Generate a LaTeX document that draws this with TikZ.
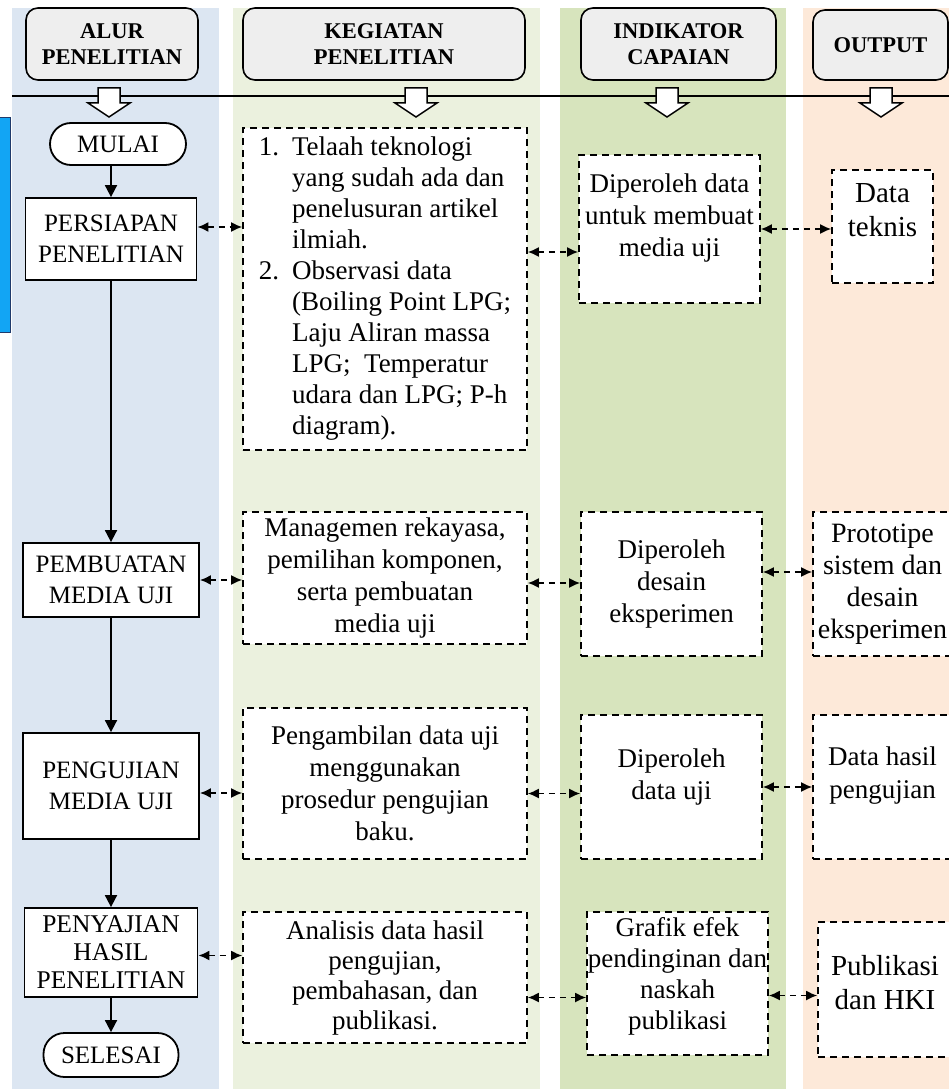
\documentclass[tikz,border=0pt]{standalone}
\usepackage{fontspec}
\setmainfont{Liberation Serif}
\usepackage{xcolor}
\usepackage{tikz}
\usetikzlibrary{arrows.meta,shapes,positioning}

\definecolor{laneblue}{HTML}{DCE6F2}
\definecolor{lanebeige}{HTML}{EBF1DE}
\definecolor{lanegreen}{HTML}{D7E4BD}
\definecolor{lanepeach}{HTML}{FDE9D9}
\definecolor{headgray}{HTML}{EEEEEE}
\definecolor{markcyan}{HTML}{12A5F4}
\definecolor{marknavy}{HTML}{1F3A6B}

\begin{document}
\begin{tikzpicture}[x=1pt, y=-1pt,
    head/.style={draw, line width=1.6pt, rounded corners=12pt, fill=headgray, align=center, inner sep=0pt, font=\fontsize{22.5}{26}\selectfont\bfseries},
    stepbox/.style={draw, line width=1.8pt, fill=white, align=center, inner sep=0pt, font=\fontsize{25}{31}\selectfont},
    endbox/.style={stepbox, rounded corners=21pt},
    dashbox/.style={draw, line width=1.6pt, dash pattern=on 7pt off 5pt, fill=white, align=center, inner sep=0pt, font=\fontsize{27}{32}\selectfont},
    outbox/.style={dashbox, font=\fontsize{29}{34}\selectfont},
    raised/.style={text depth=#1},
    blockarrow/.style={draw, line width=1.5pt, fill=white, line join=miter},
    flow/.style={-{Triangle[length=12pt,width=12pt]}, line width=1.8pt},
    link/.style={{Latex[length=11pt,width=10pt]}-{Latex[length=11pt,width=10pt]}, line width=1.7pt, dash pattern=on 6pt off 5pt}
]
\useasboundingbox (0,0) rectangle (949,1089);
\clip (0,0) rectangle (949,1089);

% lanes
\fill[laneblue] (12,8) rectangle (219,1089);
\fill[lanebeige] (233,8) rectangle (540,1089);
\fill[lanegreen] (560,8) rectangle (786,1089);
\fill[lanepeach] (803,8) rectangle (949,1089);
\filldraw[fill=markcyan, draw=marknavy, line width=1pt] (-2,118) rectangle (10,332);

% headers
\node[head, minimum width=172pt, minimum height=72pt] (hAlur) at (112,44) {ALUR\\PENELITIAN};
\node[head, minimum width=282pt, minimum height=72pt] (hKegiatan) at (384,44) {KEGIATAN\\PENELITIAN};
\node[head, minimum width=195pt, minimum height=72pt] (hIndikator) at (678.5,44) {INDIKATOR\\CAPAIAN};
\node[head, minimum width=135pt, minimum height=70pt] (hOutput) at (880.5,45) {OUTPUT};

\draw[line width=1.5pt] (12,96) -- (949,96);
\draw[blockarrow, shift={(109,0)}] (-11,88) -- (11,88) -- (11,103) -- (21,103) -- (0,117) -- (-21,103) -- (-11,103) -- cycle;
\draw[blockarrow, shift={(416,0)}] (-11,88) -- (11,88) -- (11,103) -- (21,103) -- (0,117) -- (-21,103) -- (-11,103) -- cycle;
\draw[blockarrow, shift={(667,0)}] (-11,88) -- (11,88) -- (11,103) -- (21,103) -- (0,117) -- (-21,103) -- (-11,103) -- cycle;
\draw[blockarrow, shift={(881,0)}] (-11,88) -- (11,88) -- (11,103) -- (21,103) -- (0,117) -- (-21,103) -- (-11,103) -- cycle;

% alur penelitian
\node[endbox, minimum width=136pt, minimum height=42pt] (mulai) at (118,144) {MULAI};
\node[stepbox, minimum width=171pt, minimum height=82pt] (persiapan) at (111,239) {PERSIAPAN\\PENELITIAN};
\node[stepbox, minimum width=176pt, minimum height=74pt] (pembuatan) at (111,580) {PEMBUATAN\\MEDIA UJI};
\node[stepbox, minimum width=176pt, minimum height=106pt] (pengujian) at (111,786) {PENGUJIAN\\MEDIA UJI};
\node[stepbox, minimum width=173pt, minimum height=89pt, font=\fontsize{25.5}{28}\selectfont] (penyajian) at (111,952.5) {PENYAJIAN\\HASIL\\PENELITIAN};
\node[endbox, minimum width=135pt, minimum height=44pt] (selesai) at (111,1055) {SELESAI};

\draw[flow] (mulai.south -| persiapan.north) -- (persiapan.north);
\draw[flow] (persiapan) -- (pembuatan);
\draw[flow] (pembuatan) -- (pengujian);
\draw[flow] (pengujian) -- (penyajian);
\draw[flow] (penyajian) -- (selesai);

% kegiatan penelitian
\node[dashbox, minimum width=284pt, minimum height=322pt, font=\fontsize{27}{31}\selectfont] (keg1) at (385,289) {%
  \begin{tabular}{@{}l@{\hspace{13pt}}l@{}}
  1. & Telaah teknologi\\
     & yang sudah ada dan\\
     & penelusuran artikel\\
     & ilmiah.\\
  2. & Observasi data\\
     & (Boiling Point LPG;\\
     & Laju Aliran massa\\
     & LPG;\ \ Temperatur\\
     & udara dan LPG; P-h\\
     & diagram).
  \end{tabular}};
\node[dashbox, minimum width=284pt, minimum height=132pt] (keg2) at (385,578) {Managemen rekayasa,\\pemilihan komponen,\\serta pembuatan\\media uji};
\node[dashbox, minimum width=284pt, minimum height=151pt] (keg3) at (385,783.5) {Pengambilan data uji\\menggunakan\\prosedur pengujian\\baku.};
\node[dashbox, minimum width=284pt, minimum height=131pt, font=\fontsize{27}{30}\selectfont] (keg4) at (385,977.5) {Analisis data hasil\\pengujian,\\pembahasan, dan\\publikasi.};

% indikator capaian
\node[dashbox, raised=28pt, minimum width=181pt, minimum height=148pt] (ind1) at (669.5,229) {Diperoleh data\\untuk membuat\\media uji};
\node[dashbox, minimum width=181pt, minimum height=144pt] (ind2) at (671.5,584) {Diperoleh\\desain\\eksperimen};
\node[dashbox, raised=26pt, minimum width=181pt, minimum height=144pt] (ind3) at (671.5,787) {Diperoleh\\data uji};
\node[dashbox, raised=20pt, minimum width=181pt, minimum height=143pt, font=\fontsize{27}{31}\selectfont] (ind4) at (677.5,983.5) {Grafik efek\\pendinginan dan\\naskah\\publikasi};

% output
\node[outbox, raised=32pt, minimum width=101pt, minimum height=113pt] (out1) at (882.5,226.5) {Data\\teknis};
\node[outbox, minimum width=139pt, minimum height=144pt, font=\fontsize{28}{32}\selectfont] (out2) at (882.5,584) {Prototipe\\sistem dan\\desain\\eksperimen};
\node[outbox, raised=28pt, minimum width=139pt, minimum height=144pt, font=\fontsize{27}{33}\selectfont] (out3) at (882.5,787) {Data hasil\\pengujian};
\node[outbox, raised=14pt, minimum width=134pt, minimum height=135pt] (out4) at (885,989.5) {Publikasi\\dan HKI};

% links
\draw[link] ([yshift=12pt]persiapan.east) -- ([yshift=12pt]persiapan.east -| keg1.west);
\draw[link] ([yshift=37pt]keg1.east) -- ([yshift=37pt]keg1.east -| ind1.west);
\draw[link] (ind1.east) -- (ind1.east -| out1.west);
\draw[link] (pembuatan.east) -- (pembuatan.east -| keg2.west);
\draw[link] ([yshift=-5pt]keg2.east) -- ([yshift=-5pt]keg2.east -| ind2.west);
\draw[link] ([yshift=12pt]ind2.east) -- ([yshift=12pt]ind2.east -| out2.west);
\draw[link] ([yshift=-7pt]pengujian.east) -- ([yshift=-7pt]pengujian.east -| keg3.west);
\draw[link] ([yshift=-10pt]keg3.east) -- ([yshift=-10pt]keg3.east -| ind3.west);
\draw[link] (ind3.east) -- (ind3.east -| out3.west);
\draw[link] ([yshift=-3pt]penyajian.east) -- ([yshift=-3pt]penyajian.east -| keg4.west);
\draw[link] ([yshift=-20pt]keg4.east) -- ([yshift=-20pt]keg4.east -| ind4.west);
\draw[link] ([yshift=-12pt]ind4.east) -- ([yshift=-12pt]ind4.east -| out4.west);
\end{tikzpicture}
\end{document}
